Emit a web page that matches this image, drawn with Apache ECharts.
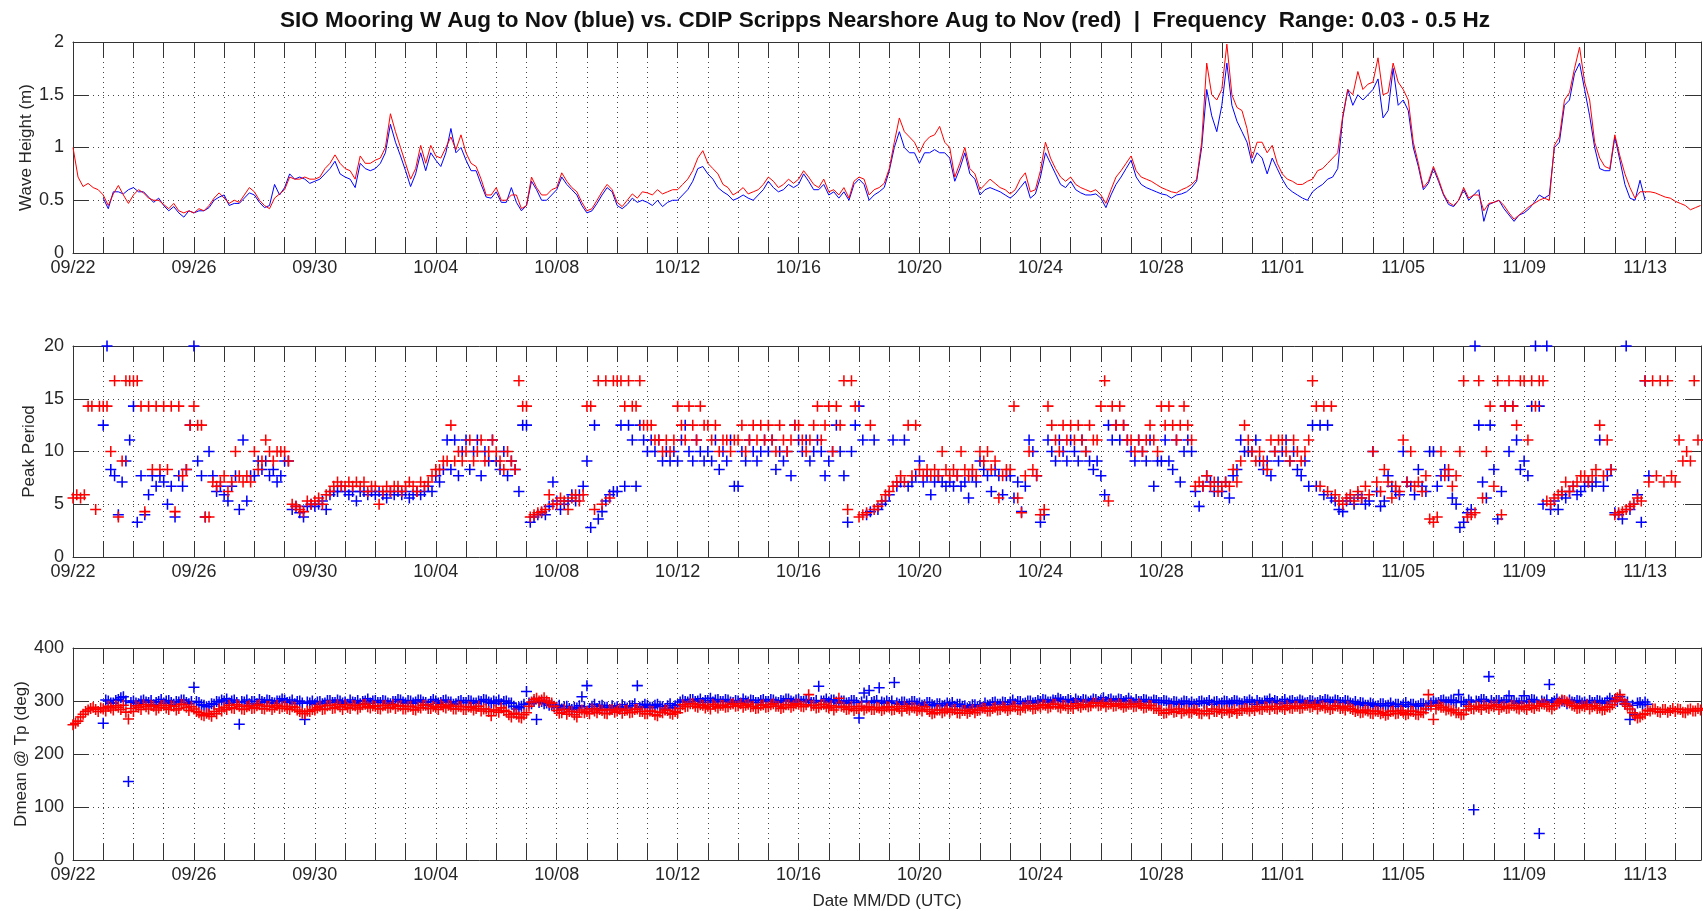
<!DOCTYPE html>
<html><head><meta charset="utf-8">
<script src="https://cdn.jsdelivr.net/npm/echarts@6/dist/echarts.min.js"></script>
<style>html,body{margin:0;padding:0;background:#fff}#c{width:1703px;height:911px}</style>
</head><body><div id="c"></div>
<script>
// x axis = days since 09/22 00:00 UTC
const tickLabels = ['09/22','09/26','09/30','10/04','10/08','10/12','10/16','10/20','10/24','10/28','11/01','11/05','11/09','11/13'];
const xMax = 53.85;
const titleText = 'SIO Mooring W Aug to Nov (blue) vs. CDIP Scripps Nearshore Aug to Nov (red)  |  Frequency  Range: 0.03 - 0.5 Hz';

// Wave height (m), 4-hourly samples
const redHeightStart = 0, blueHeightStart = 1, heightStep = 1/6;
const redHeight = [
1.00,0.72,0.63,0.66,0.62,0.60, 0.55,0.45,0.56,0.64,0.55,0.47, 0.55,0.60,0.57,0.52,0.50,0.50,
0.46,0.42,0.47,0.40,0.38,0.40, 0.38,0.42,0.40,0.45,0.52,0.57, 0.52,0.47,0.50,0.48,0.55,0.62,
0.58,0.50,0.45,0.42,0.52,0.56, 0.60,0.72,0.70,0.70,0.72,0.70, 0.70,0.72,0.80,0.85,0.93,0.85,
0.80,0.78,0.70,0.92,0.85,0.85, 0.88,0.90,1.00,1.32,1.15,1.00, 0.85,0.70,0.80,1.02,0.85,1.02,
0.92,0.90,1.00,1.10,0.98,1.12, 0.95,0.85,0.82,0.70,0.55,0.55, 0.62,0.50,0.50,0.55,0.55,0.42,
0.45,0.72,0.62,0.55,0.55,0.60, 0.62,0.76,0.68,0.62,0.58,0.48, 0.40,0.42,0.50,0.58,0.65,0.60,
0.48,0.44,0.50,0.56,0.52,0.58, 0.57,0.55,0.60,0.56,0.58,0.60, 0.60,0.65,0.70,0.78,0.90,0.97,
0.85,0.80,0.75,0.65,0.62,0.55, 0.58,0.62,0.56,0.58,0.60,0.65, 0.72,0.68,0.62,0.65,0.70,0.66,
0.70,0.78,0.72,0.65,0.62,0.70, 0.58,0.60,0.55,0.62,0.52,0.68, 0.72,0.70,0.55,0.60,0.62,0.66,
0.80,1.05,1.28,1.15,1.10,1.05, 0.95,1.05,1.10,1.12,1.20,1.05, 1.00,0.72,0.85,1.00,0.80,0.75,
0.60,0.65,0.70,0.66,0.62,0.60, 0.56,0.60,0.70,0.76,0.58,0.60, 0.78,1.05,0.90,0.80,0.72,0.68,
0.72,0.65,0.62,0.60,0.58,0.60, 0.55,0.47,0.60,0.72,0.78,0.85, 0.92,0.78,0.72,0.70,0.68,0.65,
0.62,0.60,0.58,0.57,0.60,0.62, 0.65,0.70,1.05,1.80,1.50,1.45, 1.55,1.98,1.50,1.38,1.35,1.18,
0.90,1.05,1.05,0.95,1.02,0.85, 0.75,0.70,0.68,0.65,0.65,0.68, 0.70,0.78,0.80,0.85,0.90,0.95,
1.30,1.55,1.50,1.72,1.55,1.60, 1.62,1.85,1.50,1.52,1.80,1.62, 1.55,1.45,1.05,0.85,0.62,0.68,
0.82,0.70,0.56,0.48,0.45,0.50, 0.62,0.52,0.55,0.55,0.40,0.47, 0.48,0.50,0.45,0.38,0.32,0.36,
0.40,0.44,0.47,0.50,0.52,0.50, 1.02,1.10,1.45,1.52,1.75,1.95, 1.62,1.45,1.05,0.90,0.82,0.80,
1.12,0.92,0.75,0.62,0.52,0.58, 0.58,0.58,0.57,0.55,0.53,0.52, 0.49,0.47,0.45,0.41,0.43,0.45];
const blueHeight = [
0.52,0.42,0.58,0.58,0.56,0.60, 0.62,0.58,0.58,0.53,0.48,0.52, 0.45,0.40,0.44,0.38,0.34,0.40,
0.38,0.40,0.40,0.43,0.50,0.53, 0.55,0.45,0.47,0.47,0.52,0.57, 0.55,0.48,0.43,0.45,0.65,0.55,
0.62,0.75,0.70,0.72,0.70,0.66, 0.68,0.70,0.75,0.80,0.87,0.75, 0.72,0.70,0.62,0.85,0.80,0.78,
0.80,0.85,0.95,1.22,1.05,0.92, 0.78,0.63,0.75,0.95,0.78,0.95, 0.88,0.82,0.95,1.18,0.95,1.00,
0.88,0.78,0.78,0.65,0.53,0.52, 0.58,0.48,0.48,0.62,0.48,0.40, 0.45,0.68,0.60,0.50,0.50,0.55,
0.60,0.72,0.65,0.60,0.55,0.45, 0.38,0.40,0.47,0.55,0.62,0.58, 0.45,0.42,0.46,0.52,0.48,0.50,
0.48,0.45,0.50,0.44,0.48,0.50, 0.50,0.55,0.60,0.68,0.80,0.82, 0.75,0.70,0.62,0.58,0.55,0.50,
0.52,0.55,0.52,0.50,0.55,0.60, 0.68,0.62,0.58,0.60,0.65,0.62, 0.65,0.75,0.68,0.60,0.60,0.65,
0.55,0.58,0.52,0.58,0.50,0.65, 0.70,0.65,0.50,0.55,0.58,0.62, 0.78,1.00,1.15,1.00,0.95,0.95,
0.85,0.95,0.95,0.98,0.95,0.95, 0.90,0.68,0.80,0.95,0.75,0.70, 0.55,0.60,0.62,0.60,0.58,0.55,
0.52,0.56,0.62,0.68,0.52,0.56, 0.72,0.95,0.85,0.75,0.65,0.62, 0.68,0.60,0.57,0.55,0.55,0.56,
0.52,0.43,0.55,0.65,0.72,0.80, 0.88,0.72,0.65,0.62,0.60,0.58, 0.56,0.55,0.52,0.55,0.56,0.58,
0.62,0.68,1.00,1.55,1.30,1.15, 1.40,1.80,1.40,1.25,1.15,1.05, 0.85,0.95,0.90,0.75,0.90,0.80,
0.70,0.62,0.58,0.55,0.52,0.50, 0.58,0.62,0.65,0.70,0.72,0.80, 1.28,1.55,1.40,1.50,1.45,1.50,
1.55,1.65,1.28,1.35,1.75,1.40, 1.45,1.35,1.00,0.82,0.60,0.66, 0.80,0.68,0.55,0.46,0.44,0.50,
0.60,0.50,0.55,0.60,0.30,0.46, 0.48,0.50,0.42,0.36,0.30,0.36, 0.38,0.42,0.48,0.55,0.52,0.55,
1.00,1.05,1.40,1.45,1.70,1.80, 1.55,1.30,1.00,0.80,0.78,0.78, 1.10,0.88,0.65,0.52,0.50,0.69,
0.50];

// Peak period (s), 3-hourly samples
const redPeriodStart = 0, bluePeriodStart = 1, periodStep = 1/8;
const redPeriod = [
5.6,5.9,5.6,5.9,14.3,14.3,4.5,14.3, 14.3,14.3,10,16.7,3.8,9.1,16.7,16.7, 16.7,16.7,14.3,4.3,14.3,8.3,14.3,8.3,
14.3,8.3,14.3,4.3,14.3,7.7,8.3,12.5, 14.3,12.5,12.5,3.8,3.8,7.1,6.7,7.1, 7.7,6.2,7.1,10,7.7,7.1,7.7,7.1,
10,8.3,9.1,11.1,10,9.1,10,10, 10,9.1,5.0,4.8,4.5,4.3,5.3,5.0, 5.3,5.6,5.0,5.9,6.2,6.7,7.1,6.7,
6.7,7.1,6.7,7.1,6.7,7.1,6.2,6.7, 6.7,5.0,6.2,6.7,6.2,6.7,6.7,6.2, 6.7,7.1,6.7,6.2,7.1,6.7,7.1,7.7,
8.3,8.3,9.1,9.1,12.5,9.1,10,9.1, 10,11.1,9.1,10,11.1,9.1,10,11.1, 10,9.1,8.3,10,9.1,8.3,16.7,14.3,
14.3,3.8,4.0,4.2,4.3,4.5,5.9,5.0, 5.0,5.6,5.3,4.5,5.6,5.9,5.3,5.9, 14.3,14.3,4.5,16.7,5.0,16.7,5.6,16.7,
16.7,16.7,14.3,16.7,14.3,14.3,16.7,12.5, 12.5,12.5,11.1,11.1,10,11.1,10,11.1, 14.3,12.5,11.1,14.3,12.5,11.1,14.3,12.5,
12.5,11.1,12.5,10,11.1,11.1,10,11.1, 11.1,12.5,10,11.1,12.5,11.1,12.5,11.1, 12.5,11.1,10,12.5,11.1,10,11.1,12.5,
12.5,11.1,10,11.1,12.5,14.3,11.1,12.5, 14.3,10,14.3,12.5,16.7,4.5,16.7,14.3, 3.8,4.0,4.2,12.5,4.5,4.8,5.3,5.9,
6.2,6.7,7.1,7.7,7.1,12.5,7.7,12.5, 8.3,7.7,8.3,7.7,8.3,7.7,10,8.3, 7.7,8.3,7.7,10,8.3,7.7,8.3,7.7,
10,9.1,10,8.3,9.1,5.6,7.7,8.3, 8.3,14.3,5.6,4.2,7.7,10,8.3,7.7, 4.0,4.5,14.3,12.5,11.1,10,12.5,11.1,
12.5,11.1,12.5,11.1,10,12.5,11.1,11.1, 14.3,16.7,5.3,14.3,12.5,14.3,12.5,11.1, 11.1,10,11.1,10,11.1,12.5,11.1,10,
14.3,12.5,14.3,12.5,11.1,12.5,14.3,12.5, 11.1,6.7,7.1,6.7,7.7,6.7,7.1,6.2, 6.7,7.1,6.7,8.3,7.1,9.1,12.5,11.1,
10,9.1,10,9.1,8.3,11.1,10,11.1, 11.1,10,9.1,11.1,10,9.1,10,11.1, 16.7,14.3,6.7,14.3,6.2,14.3,5.9,5.3,
5.0,5.6,5.9,5.3,6.2,5.6,6.7,5.9, 10,7.1,6.2,8.3,7.1,5.6,6.7,6.2, 11.1,7.1,10,6.7,7.1,6.2,7.7,3.6,
3.3,3.8,10,7.7,8.3,6.7,7.7,10, 16.7,3.8,4.0,4.2,16.7,5.6,10,14.3, 6.7,16.7,4.0,14.3,16.7,14.3,12.5,16.7,
16.7,11.1,16.7,14.3,16.7,16.7,5.3,5.0, 5.6,5.9,6.2,7.1,6.2,6.7,7.1,7.7, 7.7,7.1,7.7,8.3,12.5,7.7,11.1,8.3,
4.0,4.2,4.3,4.5,4.8,5.0,5.6,5.3, 16.7,7.1,16.7,7.7,16.7,7.1,16.7,7.7, 7.1,11.1,9.1,10,9.1,16.7,11.1];
const bluePeriod = [
12.5,20,8.3,7.7,4.0,7.1,9.1,11.1, 14.3,3.3,7.7,4.0,5.9,7.7,6.7,7.7, 7.1,5.0,6.7,3.8,7.7,6.7,8.3,12.5,
20,9.1,7.7,3.8,10,7.7,6.2,6.7, 5.9,5.3,6.7,7.7,4.5,11.1,5.3,7.7, 7.7,9.1,8.3,9.1,7.7,8.3,7.1,7.7,
9.1,9.1,4.5,4.8,4.2,3.8,4.8,5.0, 4.8,5.0,5.3,4.5,5.9,6.2,6.2,6.7, 6.2,5.9,6.2,5.3,6.2,6.2,5.9,6.2,
5.9,6.2,5.9,5.6,6.2,5.9,6.2,5.9, 6.2,5.6,5.9,6.2,5.9,6.2,6.7,6.2, 7.7,7.1,8.3,11.1,8.3,11.1,7.7,10,
11.1,8.3,10,11.1,7.7,10,9.1,11.1, 9.1,8.3,10,7.7,9.1,8.3,6.2,12.5, 12.5,3.3,3.8,4.0,4.2,4.0,4.8,7.1,
5.3,4.5,5.0,5.3,5.9,5.3,5.9,6.7, 9.1,2.8,12.5,3.6,4.3,5.3,5.9,6.2, 6.2,12.5,6.7,12.5,11.1,6.7,12.5,11.1,
10,11.1,10,11.1,9.1,10,9.1,10, 9.1,11.1,12.5,10,9.1,11.1,10,9.1, 10,9.1,11.1,8.3,10,9.1,11.1,6.7,
6.7,10,9.1,11.1,10,9.1,10,11.1, 10,11.1,8.3,10,9.1,10,7.7,12.5, 11.1,10,11.1,9.1,10,11.1,10,7.7,
9.1,10,12.5,10,7.7,3.3,10,12.5, 14.3,11.1,4.0,4.3,11.1,4.5,5.0,5.3, 5.9,11.1,6.7,7.1,11.1,6.7,7.1,7.7,
9.1,7.1,7.7,5.9,7.1,7.7,7.1,6.7, 7.1,6.7,7.7,6.7,7.1,5.6,7.7,7.1, 9.1,8.3,7.7,6.2,8.3,7.7,5.9,7.7,
7.7,5.6,7.1,4.3,6.7,11.1,10,7.7, 3.3,4.0,11.1,10,9.1,11.1,10,9.1, 11.1,10,9.1,11.1,10,9.1,8.3,9.1,
7.7,5.9,12.5,11.1,12.5,11.1,12.5,11.1, 10,9.1,11.1,10,9.1,11.1,6.7,9.1, 9.1,11.1,9.1,8.3,11.1,7.1,10,11.1,
10,6.2,4.8,6.7,7.7,7.1,6.2,7.1, 6.2,7.1,5.6,7.7,8.3,11.1,10,10, 10,11.1,9.1,8.3,9.1,7.7,10,9.1,
10,11.1,9.1,10,8.3,7.7,9.1,6.7, 12.5,6.7,12.5,5.9,12.5,5.6,5.3,4.5, 4.3,5.3,5.6,5.0,5.9,5.6,5.0,5.3,
10,6.2,4.8,5.3,7.7,6.7,6.2,5.9, 10,7.1,6.7,5.9,8.3,6.7,6.2,10, 10,6.7,7.7,8.3,7.7,5.6,5.0,2.8,
3.3,4.2,4.5,20,12.5,7.1,5.6,12.5, 8.3,3.6,6.2,14.3,10,14.3,11.1,8.3, 9.1,7.7,14.3,20,14.3,5.0,20,4.5,
5.3,4.5,5.9,5.6,6.2,6.7,5.9,6.2, 6.7,7.1,6.7,7.1,11.1,6.7,7.7,8.3, 4.2,4.0,3.6,20,4.5,5.0,5.9,3.3,
16.7,7.7];

// Mean direction at peak period (deg), 2-hourly samples
const redDirStart = 0, blueDirStart = 1, dirStep = 1/12;
const redDir = [
255,258,262,270,275,280,283,286,288,284,280,287, 285,281,290,287,283,291,288,284,292,279,266,286,
280,291,288,284,293,289,285,292,290,283,287,291, 292,287,284,291,290,283,286,294,293,288,282,289,
285,280,278,274,272,277,275,271,280,276,285,281, 288,284,292,287,286,293,290,285,284,289,291,286,
287,291,293,286,285,290,290,284,288,292,286,289, 290,286,284,289,288,283,280,277,276,281,280,284,
283,287,290,284,285,291,292,286,287,293,289,284, 293,288,286,292,291,285,288,293,294,289,287,291,
290,286,285,291,292,287,288,293,286,290,291,285, 285,289,290,284,283,288,287,292,292,286,286,290,
288,284,293,289,287,292,290,285,285,290,289,284, 284,289,288,283,286,290,281,285,285,280,272,283,
283,279,287,282,280,274,270,277,275,270,268,274, 278,290,298,303,305,300,302,306,300,297,296,290,
282,277,278,284,275,280,280,274,270,279,283,278, 280,276,285,281,278,284,282,277,276,283,284,279,
281,285,277,282,283,278,279,284,285,280,280,276, 276,281,280,274,272,279,278,283,282,277,275,280,
278,286,293,289,290,295,295,290,288,293,292,287, 290,285,294,290,287,292,292,288,289,294,295,290,
291,295,288,292,294,289,290,286,287,292,293,288, 289,293,295,290,290,286,288,293,293,288,291,295,
294,290,289,293,312,291,292,287,288,293,294,289, 287,291,283,288,305,290,288,284,285,289,282,286,
286,290,283,287,289,284,284,288,287,282,285,289, 288,283,284,289,286,281,290,286,283,288,287,282,
285,281,289,284,280,276,278,283,283,278,281,285, 279,283,284,278,277,282,282,277,280,284,278,282,
283,287,286,281,281,286,288,283,284,289,287,282, 285,290,289,284,283,288,287,291,290,285,286,291,
288,293,292,287,289,294,294,289,287,292,291,286, 290,286,295,291,288,293,293,289,291,296,296,291,
292,296,289,294,295,290,291,295,293,288,290,294, 294,289,290,295,292,287,288,292,291,286,286,282,
282,277,278,283,284,279,280,285,277,281,283,278, 279,284,282,277,276,281,281,276,285,280,280,284,
278,282,283,278,280,284,277,282,282,286,285,281, 286,282,289,285,284,289,288,284,290,286,285,289,
288,284,291,287,286,290,290,286,287,292,292,288, 289,293,285,290,291,287,288,284,286,291,290,286,
287,283,290,286,284,280,282,278,279,283,281,277, 276,281,280,276,278,273,275,280,281,276,277,282,
279,274,276,281,280,275,274,279,278,285,312,290, 265,285,292,288,288,283,285,281,283,278,278,274,
275,283,290,286,285,290,288,284,292,288,286,291, 289,293,284,288,290,286,287,292,291,287,285,290,
288,284,292,288,286,291,290,295,294,290,289,285, 291,295,298,302,301,298,296,292,290,286,287,291,
289,293,285,289,291,286,287,283,284,289,288,293, 300,306,312,302,295,290,285,278,272,268,270,274,
276,282,281,285,285,280,279,284,284,279,282,286, 280,285,284,279,278,283,285,281,281,286,283];
const blueDir = [
258,302,300,296,296,301,303,306,308,300,148,297, 300,296,295,300,302,298,297,301,293,297,299,303,
296,300,301,297,294,299,298,302,302,297,295,299, 326,299,297,293,292,289,290,295,294,299,298,302,
300,304,296,300,302,297,256,299,298,302,295,299, 299,295,303,299,297,302,301,297,296,300,300,304,
302,297,298,302,295,299,300,296,265,298,296,300, 294,298,299,295,296,301,301,297,297,302,300,296,
298,294,302,298,297,301,295,299,300,304,296,300, 301,297,297,301,300,296,295,299,299,303,302,298,
296,301,300,296,298,302,302,298,297,293,299,303, 300,296,297,301,302,298,298,294,295,299,301,297,
297,301,300,296,296,300,299,303,302,298,296,300, 298,302,295,299,300,296,296,290,285,288,290,294,
318,296,295,299,265,297,299,295,296,292,293,289, 288,292,285,289,290,286,284,288,287,291,308,289,
329,286,290,294,286,290,292,288,288,284,291,287, 289,285,293,289,287,291,291,295,329,288,290,294,
292,288,288,292,294,290,289,285,291,295,287,291, 293,298,302,299,298,303,303,299,300,304,297,301,
301,305,298,302,303,299,299,303,302,298,297,301, 300,296,304,300,298,302,301,297,297,301,303,299,
299,303,302,298,297,301,300,304,304,300,298,302, 303,299,299,303,301,297,297,301,328,300,300,304,
298,302,302,298,296,300,300,296,297,301,301,297, 268,298,315,300,320,297,299,301,325,298,296,300,
297,300,335,296,294,298,298,294,295,299,299,295, 296,292,293,297,297,293,291,295,295,291,292,296,
293,297,290,294,294,290,291,287,289,293,293,289, 292,288,296,292,293,297,298,294,294,298,297,293,
298,302,295,299,299,295,296,300,300,296,297,301, 299,303,302,298,298,302,301,305,303,299,299,303,
301,297,304,300,299,303,302,298,300,304,303,299, 302,306,299,303,304,300,300,304,303,299,301,305,
300,296,303,299,299,303,302,298,298,302,301,297, 297,301,300,296,295,299,298,294,296,300,299,295,
298,294,295,299,300,296,297,301,294,298,299,295, 296,300,299,295,297,301,300,296,295,299,298,302,
298,294,301,297,296,300,300,304,297,301,299,295, 299,303,296,300,301,297,298,302,300,296,297,301,
300,296,297,301,299,303,302,298,298,302,301,297, 297,301,300,296,295,299,293,297,296,292,292,296,
294,290,291,295,295,291,292,296,290,294,294,290, 293,297,290,294,294,290,291,295,295,291,292,296,
300,296,297,301,302,298,298,302,301,297,312,299, 298,294,302,298,95,300,299,303,303,299,346,301,
297,301,301,297,298,302,310,299,300,296,296,300, 310,298,299,303,302,298,50,300,298,302,331,297,
300,304,296,300,299,295,302,298,297,301,300,296, 298,294,301,297,297,301,300,296,296,300,305,301,
303,299,308,302,294,298,265,292,275,296,297,293, 298,294];

const BLUE = '#0000ff', RED = '#ff0000';
const AX = '#333333';
const FONT = 'Liberation Sans, Arial, sans-serif';

function toXY(arr, start, step) { return arr.map((v, i) => [start + i * step, v]); }

function dayLabel(v) {
  const r = Math.round(v);
  if (Math.abs(v - r) > 1e-6 || r % 4 !== 0) return '';
  return tickLabels[r / 4] || '';
}

const gridPos = [{top: 42, height: 211}, {top: 346, height: 211}, {top: 648, height: 212}];
const yDefs = [
  {min: 0, max: 2, interval: 0.5, name: 'Wave Height (m)', gap: 38},
  {min: 0, max: 20, interval: 5, name: 'Peak Period', gap: 35.5},
  {min: 0, max: 400, interval: 100, name: 'Dmean @ Tp (deg)', gap: 43.5}
];

const lineSt = {color: AX, width: 1};
const gridLine = {show: true, lineStyle: {color: '#454545', width: 1, type: [1, 4]}};
const xAxis = [], yAxis = [], grid = [];
gridPos.forEach((g, i) => {
  grid.push({left: 73, width: 1628, top: g.top, height: g.height, containLabel: false, outerBoundsMode: 'none'});
  xAxis.push({
    type: 'value', gridIndex: i, min: 0, max: xMax, interval: 1, position: 'bottom',
    axisLine: {show: true, onZero: false, lineStyle: lineSt},
    axisTick: {show: true, inside: true, length: 16, lineStyle: lineSt},
    axisLabel: {show: true, margin: 6, fontSize: 18, fontFamily: FONT, color: '#262626', formatter: dayLabel, showMaxLabel: false, hideOverlap: false},
    splitLine: gridLine,
    name: i === 2 ? 'Date MM/DD (UTC)' : '', nameLocation: 'middle', nameGap: 33, nameMoveOverlap: false,
    nameTextStyle: {fontSize: 17, fontFamily: FONT, color: '#262626'}
  });
  xAxis.push({
    type: 'value', gridIndex: i, min: 0, max: xMax, interval: 1, position: 'top',
    axisLine: {show: true, onZero: false, lineStyle: lineSt},
    axisTick: {show: true, inside: true, length: 16, lineStyle: lineSt},
    axisLabel: {show: false}, splitLine: {show: false}
  });
  const y = yDefs[i];
  yAxis.push({
    type: 'value', gridIndex: i, min: y.min, max: y.max, interval: y.interval, position: 'left',
    axisLine: {show: true, onZero: false, lineStyle: lineSt},
    axisTick: {show: true, inside: true, length: 16, lineStyle: lineSt},
    axisLabel: {show: true, margin: 9, fontSize: 18, fontFamily: FONT, color: '#262626'},
    splitLine: gridLine,
    name: y.name, nameLocation: 'middle', nameRotate: 90, nameGap: y.gap, nameMoveOverlap: false,
    nameTextStyle: {fontSize: 17, fontFamily: FONT, color: '#262626'}
  });
  yAxis.push({
    type: 'value', gridIndex: i, min: y.min, max: y.max, interval: y.interval, position: 'right',
    axisLine: {show: true, onZero: false, lineStyle: lineSt},
    axisTick: {show: true, inside: true, length: 16, lineStyle: lineSt},
    axisLabel: {show: false}, splitLine: {show: false}
  });
});

// plus marker, bar thickness ~1.5px at size 11
const PLUS = 'path://M4.3,0H5.7V4.3H10V5.7H5.7V10H4.3V5.7H0V4.3H4.3Z';
function lineSeries(name, data, color, gi) {
  return {type: 'line', name, data, xAxisIndex: gi * 2, yAxisIndex: gi * 2, showSymbol: false, symbol: 'none',
    lineStyle: {color, width: 1}, itemStyle: {color}, clip: true, silent: true};
}
function plusSeries(name, data, color, gi) {
  return {type: 'scatter', name, data, xAxisIndex: gi * 2, yAxisIndex: gi * 2, symbol: PLUS, symbolSize: [11, 11],
    itemStyle: {color, opacity: 1}, clip: false, silent: true};
}

const chart = echarts.init(document.getElementById('c'), null, {renderer: 'canvas'});
chart.setOption({
  animation: false,
  backgroundColor: '#ffffff',
  title: {text: titleText, left: 880, top: 4, textAlign: 'center',
    textStyle: {fontSize: 22.5, fontWeight: 'bold', fontFamily: FONT, color: '#111'}},
  grid, xAxis, yAxis,
  series: [
    lineSeries('SIO Mooring W', toXY(blueHeight, blueHeightStart, heightStep), BLUE, 0),
    lineSeries('CDIP Scripps Nearshore', toXY(redHeight, redHeightStart, heightStep), RED, 0),
    plusSeries('SIO Mooring W', toXY(bluePeriod, bluePeriodStart, periodStep), BLUE, 1),
    plusSeries('CDIP Scripps Nearshore', toXY(redPeriod, redPeriodStart, periodStep), RED, 1),
    plusSeries('SIO Mooring W', toXY(blueDir, blueDirStart, dirStep), BLUE, 2),
    plusSeries('CDIP Scripps Nearshore', toXY(redDir, redDirStart, dirStep), RED, 2)
  ]
});
</script></body></html>
